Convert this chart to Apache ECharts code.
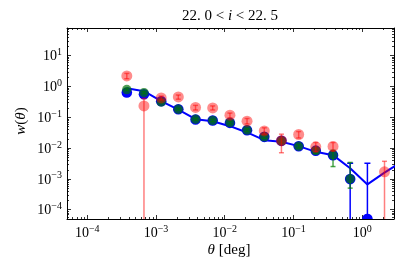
<!DOCTYPE html>
<html><head><meta charset="utf-8">
<script src="https://cdn.jsdelivr.net/npm/echarts@6/dist/echarts.min.js"></script>
<style>html,body{margin:0;padding:0;background:#fff}#c{width:407px;height:271px}</style>
</head><body><div id="c"></div>
<script>
// angular bins (deg)
const thetaDeg = [3.76e-4, 6.68e-4, 1.19e-3, 2.11e-3, 3.76e-3, 6.68e-3, 1.19e-2, 2.11e-2, 3.76e-2, 6.68e-2, 0.119, 0.211, 0.376, 0.668, 1.19, 2.11, 3.76];
// blue sample
const blueW  = [0.625, 0.55, 0.327, 0.18, 0.0836, 0.0776, 0.065, 0.0377, 0.0229, 0.017, 0.0114, 0.0082, 0.00585, 0.00098, 5e-5, null, null];
const blueLo = [0.58, 0.51, 0.30, 0.165, 0.077, 0.071, 0.059, 0.034, 0.0205, 0.015, 0.0100, 0.0070, 0.0045, 1e-8, 1e-8, null, null];
const blueHi = [0.67, 0.59, 0.355, 0.195, 0.091, 0.084, 0.071, 0.041, 0.0255, 0.019, 0.0128, 0.0095, 0.0072, 0.0032, 0.0032, null, null];
// green sample
const greenW  = [0.78, 0.62, 0.31, 0.18, 0.085, 0.078, 0.066, 0.038, 0.023, 0.017, 0.0114, 0.0082, 0.0059, 0.001, null, null, null];
const greenLo = [0.72, 0.57, 0.285, 0.165, 0.078, 0.071, 0.060, 0.034, 0.0205, 0.015, 0.0100, 0.0068, 0.0025, 0.0005, null, null, null];
const greenHi = [0.85, 0.67, 0.335, 0.195, 0.092, 0.085, 0.072, 0.042, 0.0255, 0.019, 0.0128, 0.0096, 0.0085, 0.0034, null, null, null];
// red sample
const redW  = [2.15, 0.23, 0.418, 0.45, 0.205, 0.199, 0.115, 0.0737, 0.0357, 0.0172, 0.0273, 0.0109, 0.0112, null, null, 0.00169, null];
const redLo = [1.75, 1e-8, 0.36, 0.38, 0.17, 0.17, 0.095, 0.060, 0.028, 0.007, 0.021, 0.0075, 0.008, null, null, 1e-8, null];
const redHi = [2.6, 0.40, 0.48, 0.52, 0.24, 0.23, 0.135, 0.090, 0.045, 0.028, 0.034, 0.015, 0.015, null, null, 0.0037, null];
// model line
const lineW = [0.86, 0.69, 0.33, 0.176, 0.0855, 0.0737, 0.0508, 0.0318, 0.0179, 0.0158, 0.0115, 0.0075, 0.00585, 0.0022, 0.00066, 0.00159, 0.0036];

const xMin = 5.07e-5, xMax = 2.9, yMin = 5e-5, yMax = 77;
const minorMult = [2,3,4,5,6,7,8,9];

const FONT = 'Liberation Serif';
const pts = (ys) => thetaDeg.map((x,i)=> ys[i]==null ? null : [x, ys[i]]).filter(Boolean);
const errs = (ys, lo, hi) => thetaDeg.map((x,i)=> ys[i]==null || lo[i]==null ? null : [x, lo[i], hi[i]]).filter(Boolean);

function errRender(color, capHalf, width) {
  return function(params, api) {
    const cs = params.coordSys;
    const bottom = cs.y + cs.height, top = cs.y;
    const p1 = api.coord([api.value(0), api.value(1)]);
    const p2 = api.coord([api.value(0), api.value(2)]);
    const x = p1[0];
    let yl = Math.min(p1[1], bottom), yh = Math.max(p2[1], top);
    const children = [{type:'line', shape:{x1:x,y1:yl,x2:x,y2:yh}, style:{stroke:color, lineWidth:width}}];
    if (p2[1] >= top) children.push({type:'line', shape:{x1:x-capHalf,y1:p2[1],x2:x+capHalf,y2:p2[1]}, style:{stroke:color, lineWidth:width}});
    if (p1[1] <= bottom) children.push({type:'line', shape:{x1:x-capHalf,y1:p1[1],x2:x+capHalf,y2:p1[1]}, style:{stroke:color, lineWidth:width}});
    return {type:'group', children};
  };
}
// circle marker, cut at the plot frame
function dotRender(fill, r) {
  return function(params, api) {
    const cs = params.coordSys;
    const bottom = cs.y + cs.height, top = cs.y;
    const p = api.coord([api.value(0), api.value(1)]);
    if (p[1] + r <= bottom && p[1] - r >= top) {
      return {type:'circle', shape:{cx:p[0], cy:p[1], r}, style:{fill}};
    }
    const poly = [];
    for (let k = 0; k < 48; k++) {
      const a = k / 48 * Math.PI * 2;
      poly.push([p[0] + r*Math.cos(a), Math.max(top, Math.min(bottom, p[1] + r*Math.sin(a)))]);
    }
    return {type:'polygon', shape:{points:poly}, style:{fill}};
  };
}

function tickRender(params, api) {
  const cs = params.coordSys;
  const L = cs.x, R = cs.x + cs.width, T = cs.y, B = cs.y + cs.height;
  const ch = [];
  const st = {stroke:'#000', lineWidth:0.8};
  for (let e = -5; e <= 1; e++) for (const m of minorMult) {
    const v = m * Math.pow(10, e);
    if (v > xMin && v < xMax) {
      const x = Math.round(api.coord([v, 1])[0]) + 0.5;
      ch.push({type:'line', shape:{x1:x,y1:B,x2:x,y2:B-2}, style:st});
      ch.push({type:'line', shape:{x1:x,y1:T,x2:x,y2:T+2}, style:st});
    }
  }
  for (let e = -5; e <= 2; e++) for (const m of minorMult) {
    const v = m * Math.pow(10, e);
    if (v > yMin && v < yMax) {
      const y = Math.round(api.coord([1e-2, v])[1]) + 0.5;
      ch.push({type:'line', shape:{x1:L,y1:y,x2:L+2,y2:y}, style:st});
      ch.push({type:'line', shape:{x1:R,y1:y,x2:R-2,y2:y}, style:st});
    }
  }
  return {type:'group', children: ch};
}

const fmt = v => { const e = Math.round(Math.log10(v)); return '{b|10}{s|' + (e<0?'\u2212':'') + Math.abs(e) + '}'; };
const rich = { b:{fontFamily:FONT, fontSize:14, color:'#000', verticalAlign:'bottom'}, s:{fontFamily:FONT, fontSize:10, color:'#000', verticalAlign:'bottom', padding:[0,0,6,0]} };

const axisCommon = {
  type:'log', logBase:10, splitLine:{show:false},
  axisLine:{show:true, lineStyle:{color:'#000', width:1}},
  axisTick:{show:true, inside:true, length:4, lineStyle:{color:'#000', width:0.8}},
};

const option = {
  animation:false,
  grid:{left:67, top:28, width:327, height:191},
  xAxis:[
    Object.assign({}, axisCommon, {min:xMin, max:xMax, position:'bottom',
      axisLabel:{formatter:fmt, rich, margin:5, showMinLabel:false, showMaxLabel:false}}),
    Object.assign({}, axisCommon, {min:xMin, max:xMax, position:'top', axisLabel:{show:false}})
  ],
  yAxis:[
    Object.assign({}, axisCommon, {min:yMin, max:yMax, position:'left', splitNumber:7,
      axisLabel:{formatter:fmt, rich, margin:5, showMinLabel:false, showMaxLabel:false}}),
    Object.assign({}, axisCommon, {min:yMin, max:yMax, position:'right', splitNumber:7, axisLabel:{show:false}})
  ],
  series:[
    {type:'custom', renderItem:tickRender, data:[[1e-2, 1]], silent:true, z:10},
    {type:'line', data:pts(lineW), showSymbol:false, symbol:'none', clip:true,
     lineStyle:{color:'#0000ff', width:2}, z:2},
    {type:'custom', renderItem:errRender('#0000ff', 3, 1.5), data:errs(blueW, blueLo, blueHi), clip:true, z:3},
    {type:'custom', renderItem:dotRender('#0000ff', 5.3), data:pts(blueW), clip:true, z:3},
    {type:'custom', renderItem:errRender('rgba(0,128,0,0.7)', 2.5, 1.5), data:errs(greenW, greenLo, greenHi), clip:true, z:4},
    {type:'custom', renderItem:dotRender('rgba(0,115,10,0.69)', 4.7), data:pts(greenW), clip:true, z:4},
    {type:'custom', renderItem:errRender('rgba(255,0,0,0.5)', 2.5, 1.5), data:errs(redW, redLo, redHi), clip:true, z:5},
    {type:'custom', renderItem:dotRender('rgba(255,0,0,0.45)', 5.5), data:pts(redW), clip:true, z:5}
  ],
  graphic:[
    {type:'text', x:230, y:16, style:{text:'22. 0 < {i|i} < 22. 5', fontFamily:FONT, fontSize:15, fill:'#000', align:'center', verticalAlign:'middle',
      rich:{i:{fontFamily:FONT, fontStyle:'italic', fontSize:15}}}},
    {type:'text', x:229, y:250, style:{text:'{i|θ} [deg]', fontFamily:FONT, fontSize:15, fill:'#000', align:'center', verticalAlign:'middle',
      rich:{i:{fontFamily:FONT, fontStyle:'italic', fontSize:15}}}},
    {type:'text', x:21, y:121, rotation:Math.PI/2, style:{text:'{i|w}({i|θ})', fontFamily:FONT, fontSize:15, fill:'#000', align:'center', verticalAlign:'middle',
      rich:{i:{fontFamily:FONT, fontStyle:'italic', fontSize:15}}}}
  ]
};
const chart = echarts.init(document.getElementById('c'), null, {renderer:'canvas'});
chart.setOption(option);
</script></body></html>
